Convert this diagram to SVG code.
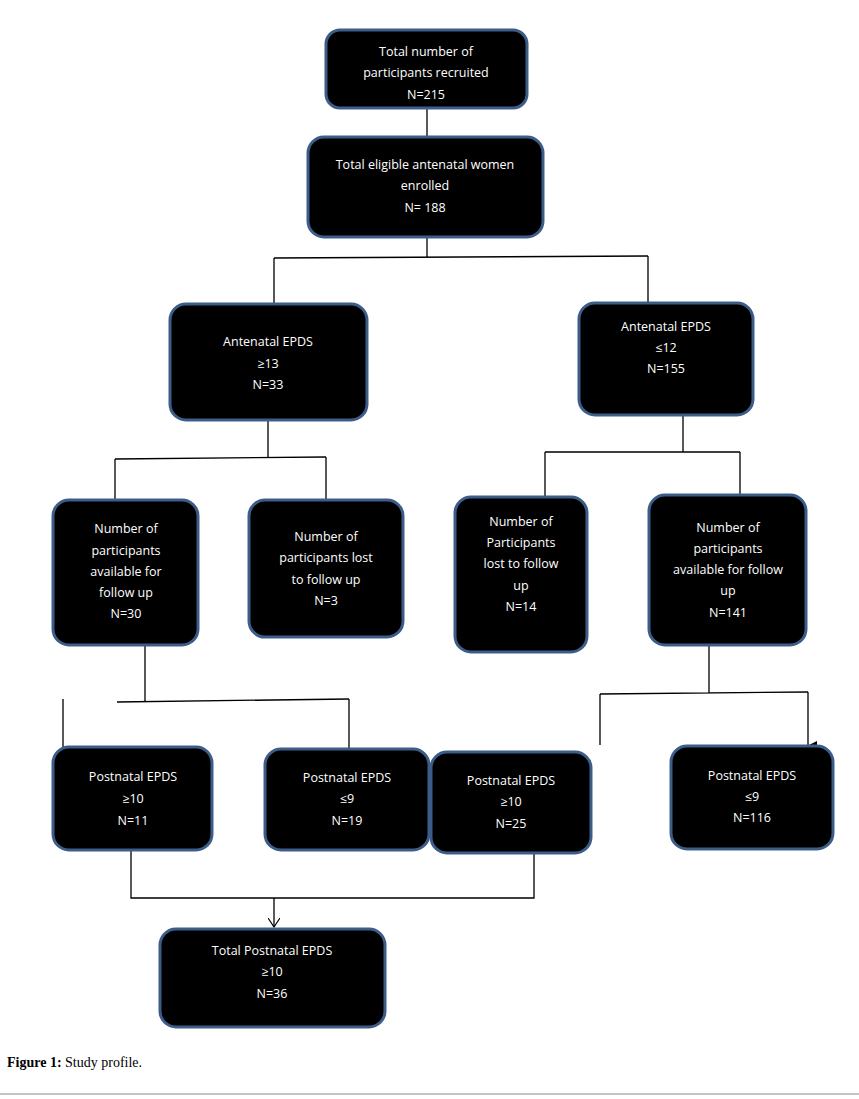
<svg xmlns="http://www.w3.org/2000/svg" width="859" height="1099" viewBox="0 0 859 1099">
<style>
.b{fill:#000;stroke:#3c5d8a;stroke-width:3}
.t{fill:#fff;font-family:"Open Sans",sans-serif;font-size:12.5px;text-anchor:middle}
.c{stroke:#000;stroke-width:1.3;fill:none}
</style>
<defs><marker id="a" markerWidth="10" markerHeight="10" refX="5" refY="9" orient="auto-start-reverse" markerUnits="userSpaceOnUse" viewBox="0 0 10 10"><path d="M0,0 L10,0 L5,10Z" fill="#000"/></marker>
<marker id="o" markerWidth="12" markerHeight="10" refX="6" refY="9" markerUnits="userSpaceOnUse" viewBox="0 0 12 10"><path d="M0,0 L6,9 L12,0" fill="none" stroke="#000" stroke-width="1.2"/></marker></defs>
<rect width="859" height="1099" fill="#fff"/>
<g id="connectors">
<path class="c" d="M427,108V137M427,237V257M274,258L648,256M115,459L326,457M683,415V452M545,452L740,452M740,452V495M145,645V701M117,702L349,699M709,645V693M600,694L808,692M131,850V898H534V853"/>
<path class="c" marker-end="url(#a)" d="M274,258V304M648,256V303M268,420V458M115,459V500M326,457V500M545,452V497M349,699V749M63,699V749M600,694V745M808,692V746"/>
<path class="c" marker-end="url(#o)" d="M274,898V927"/>
</g>
<g id="n1"><rect class="b" x="326" y="30" width="201" height="78" rx="14"/><text class="t" x="426" y="56">Total number of</text><text class="t" x="426" y="77">participants recruited</text><text class="t" x="426" y="99">N=215</text></g>
<g id="n2"><rect class="b" x="308" y="137" width="235" height="100" rx="16"/><text class="t" x="425" y="169">Total eligible antenatal women</text><text class="t" x="425" y="190">enrolled</text><text class="t" x="425" y="212">N= 188</text></g>
<g id="n3"><rect class="b" x="170" y="304" width="197" height="116" rx="16"/><text class="t" x="268" y="346">Antenatal EPDS</text><text class="t" x="268" y="368">≥13</text><text class="t" x="268" y="389">N=33</text></g>
<g id="n4"><rect class="b" x="579" y="303" width="174" height="112" rx="16"/><text class="t" x="666" y="331">Antenatal EPDS</text><text class="t" x="666" y="352">≤12</text><text class="t" x="666" y="373">N=155</text></g>
<g id="n5"><rect class="b" x="53" y="500" width="145" height="145" rx="16"/><text class="t" x="126" y="533">Number of</text><text class="t" x="126" y="555">participants</text><text class="t" x="126" y="576">available for</text><text class="t" x="126" y="597">follow up</text><text class="t" x="126" y="618">N=30</text></g>
<g id="n6"><rect class="b" x="249" y="500" width="154" height="137" rx="16"/><text class="t" x="326" y="541">Number of</text><text class="t" x="326" y="562">participants lost</text><text class="t" x="326" y="584">to follow up</text><text class="t" x="326" y="605">N=3</text></g>
<g id="n7"><rect class="b" x="455" y="497" width="132" height="155" rx="16"/><text class="t" x="521" y="526">Number of</text><text class="t" x="521" y="547">Participants</text><text class="t" x="521" y="568">lost to follow</text><text class="t" x="521" y="590">up</text><text class="t" x="521" y="611">N=14</text></g>
<g id="n8"><rect class="b" x="649" y="495" width="157" height="150" rx="16"/><text class="t" x="728" y="532">Number of</text><text class="t" x="728" y="553">participants</text><text class="t" x="728" y="574">available for follow</text><text class="t" x="728" y="595">up</text><text class="t" x="728" y="617">N=141</text></g>
<g id="n9"><rect class="b" x="53" y="747" width="159" height="103" rx="16"/><text class="t" x="133" y="781">Postnatal EPDS</text><text class="t" x="133" y="803">≥10</text><text class="t" x="133" y="825">N=11</text></g>
<g id="n10"><rect class="b" x="265" y="749" width="164" height="101" rx="16"/><text class="t" x="347" y="782">Postnatal EPDS</text><text class="t" x="347" y="803">≤9</text><text class="t" x="347" y="825">N=19</text></g>
<g id="n11"><rect class="b" x="431" y="752" width="160" height="101" rx="16"/><text class="t" x="511" y="785">Postnatal EPDS</text><text class="t" x="511" y="806">≥10</text><text class="t" x="511" y="828">N=25</text></g>
<g id="n12"><rect class="b" x="671" y="746" width="162" height="103" rx="16"/><text class="t" x="752" y="780">Postnatal EPDS</text><text class="t" x="752" y="801">≤9</text><text class="t" x="752" y="822">N=116</text></g>
<g id="n13"><rect class="b" x="160" y="929" width="225" height="98" rx="16"/><text class="t" x="272" y="955">Total Postnatal EPDS</text><text class="t" x="272" y="976">≥10</text><text class="t" x="272" y="998">N=36</text></g>
<text x="7" y="1067" font-family="Liberation Serif,serif" font-size="14"><tspan font-weight="bold">Figure 1:</tspan> Study profile.</text>
<line x1="0" y1="1094" x2="859" y2="1094" stroke="#888" stroke-width="1"/>
</svg>
